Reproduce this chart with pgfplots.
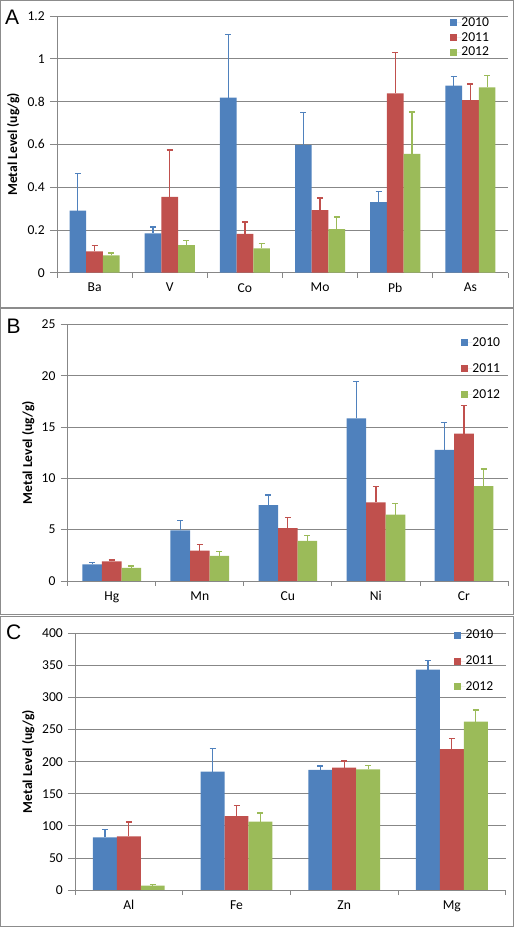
\documentclass[border=0pt]{standalone}
\usepackage{pgfplots}
\usepackage{pgfplotstable}
\pgfplotsset{compat=1.18}
\usepackage{fontspec}
\setmainfont{Carlito}
\newfontfamily\arialf{Liberation Sans}

\definecolor{cb}{HTML}{4F81BD}
\definecolor{cr}{HTML}{C0504D}
\definecolor{cg}{HTML}{9BBB59}
\definecolor{gl}{HTML}{878787}
\definecolor{fr}{HTML}{8C8C8C}

\newcommand\cf{\fontsize{13.6bp}{16bp}\selectfont}

\pgfplotstableread{
x y10 e10 y11 e11 y12 e12
0 0.290 0.174 0.100 0.026 0.081 0.011
1 0.184 0.030 0.354 0.220 0.129 0.022
2 0.818 0.295 0.182 0.055 0.114 0.022
3 0.598 0.152 0.293 0.056 0.204 0.056
4 0.330 0.050 0.838 0.191 0.556 0.195
5 0.874 0.042 0.807 0.075 0.866 0.057
}\tA
\pgfplotstableread{
x y10 e10 y11 e11 y12 e12
0 1.62 0.17 1.92 0.13 1.27 0.19
1 4.94 0.94 2.95 0.59 2.44 0.45
2 7.40 0.98 5.16 1.01 3.90 0.55
3 15.84 3.58 7.66 1.53 6.46 1.07
4 12.76 2.69 14.35 2.76 9.25 1.66
}\tB
\pgfplotstableread{
x y10 e10 y11 e11 y12 e12
0 82.1 12.4 83.6 22.4 6.75 1.55
1 184.4 36.4 115.3 16.1 106.5 13.5
2 187.0 6.2 190.6 10.4 188.1 5.7
3 343.4 14.0 219.7 16.7 262.3 18.2
}\tC

\pgfplotsset{
 panel/.style={
  scale only axis, ybar=0pt, bar width=0.2222, enlargelimits=false, ymin=0,
  height=256.7bp,
  axis x line*=bottom, axis y line*=left,
  axis line style={gl,-,line width=0.8bp},
  ymajorgrids, grid style={gl,line width=0.8bp},
  tick align=outside, major tick length=7bp, minor tick length=5bp,
  tick style={gl,line width=0.8bp},
  major x tick style={draw=none},
  tick label style={font=\cf},
  xticklabel style={font=\cf},
  yticklabel style={font=\cf, anchor=east, inner sep=0pt, xshift=-5bp},
  /pgf/number format/assume math mode=true,
  ylabel={Metal Level (ug/g)},
  every axis y label/.style={font=\cf\bfseries, rotate=90, anchor=center},
  legend cell align=left,
  legend style={draw=none, fill=none, inner sep=0pt, font=\cf,
    nodes={inner sep=0pt, text height=10bp, text depth=3bp}},
  legend image code/.code={\fill[##1,draw=none] (0bp,-3.5bp) rectangle (7bp,3.5bp); \path (0bp,0bp) -- (11.4bp,0bp);},
 },
 eb/.style={error bars/.cd, y dir=plus, y explicit,
   error bar style={#1,line width=1.2bp},
   error mark options={#1,rotate=90,mark size=3bp,line width=1.2bp}},
 b0/.style={fill=cb, draw=none, bar shift=-0.2222, eb=cb},
 b1/.style={fill=cr, draw=none, bar shift=0, eb=cr},
 b2/.style={fill=cg, draw=none, bar shift=0.2222, eb=cg},
}

\begin{document}
\begin{tikzpicture}
\useasboundingbox (0,0) rectangle (515bp,927bp);
\draw[fr,line width=1bp] (0.5bp,926.5bp) rectangle (513bp,619bp);
\draw[fr,line width=1bp] (0.5bp,618bp) rectangle (513bp,312bp);
\draw[fr,line width=1bp] (0.5bp,310bp) rectangle (513bp,1bp);
\node[anchor=base west,inner sep=0pt,font=\arialf\fontsize{21bp}{24bp}\selectfont] at (5bp,902bp) {A};
\node[anchor=base west,inner sep=0pt,font=\arialf\fontsize{21bp}{24bp}\selectfont] at (6.5bp,593.7bp) {B};
\node[anchor=base west,inner sep=0pt,font=\arialf\fontsize{21bp}{24bp}\selectfont] at (6bp,287.5bp) {C};

\begin{axis}[panel, at={(57bp,654.3bp)}, anchor=south west, width=451bp,
  xmin=-0.5, xmax=5.5, ymax=1.2, ytick={0,0.2,...,1.2},
  yticklabels={0,0.2,0.4,0.6,0.8,1,1.2},
  xtick={0,...,5}, xticklabels={Ba,V,Co,Mo,Pb,As},
  minor xtick={-0.5,0.5,...,5.5},
  ylabel style={at={(axis description cs:-0.0969,0.5)}},
  legend style={at={(axis description cs:0.871,1.0)}, anchor=north west, row sep=1.9bp}]
\addplot[b0] table[x=x,y=y10,y error=e10]{\tA};
\addplot[b1] table[x=x,y=y11,y error=e11]{\tA};
\addplot[b2] table[x=x,y=y12,y error=e12]{\tA};
\legend{2010,2011,2012}
\end{axis}

\begin{axis}[panel, at={(67.7bp,346bp)}, anchor=south west, width=440.3bp,
  xmin=-0.5, xmax=4.5, ymax=25, ytick={0,5,...,25},
  xtick={0,...,4}, xticklabels={Hg,Mn,Cu,Ni,Cr},
  minor xtick={-0.5,0.5,...,4.5},
  ylabel style={at={(axis description cs:-0.0895,0.5)}},
  legend style={at={(axis description cs:0.893,0.9536)}, anchor=north west, row sep=13bp}]
\addplot[b0] table[x=x,y=y10,y error=e10]{\tB};
\addplot[b1] table[x=x,y=y11,y error=e11]{\tB};
\addplot[b2] table[x=x,y=y12,y error=e12]{\tB};
\legend{2010,2011,2012}
\end{axis}

\begin{axis}[panel, at={(75bp,37bp)}, anchor=south west, width=430.7bp,
  xmin=-0.5, xmax=3.5, ymax=400, ytick={0,50,...,400},
  xtick={0,...,3}, xticklabels={Al,Fe,Zn,Mg},
  minor xtick={-0.5,0.5,...,3.5},
  ylabel style={at={(axis description cs:-0.1084,0.5)}},
  legend style={at={(axis description cs:0.880,1.018)}, anchor=north west, row sep=12.7bp}]
\addplot[b0] table[x=x,y=y10,y error=e10]{\tC};
\addplot[b1] table[x=x,y=y11,y error=e11]{\tC};
\addplot[b2] table[x=x,y=y12,y error=e12]{\tC};
\legend{2010,2011,2012}
\end{axis}
\end{tikzpicture}
\end{document}
